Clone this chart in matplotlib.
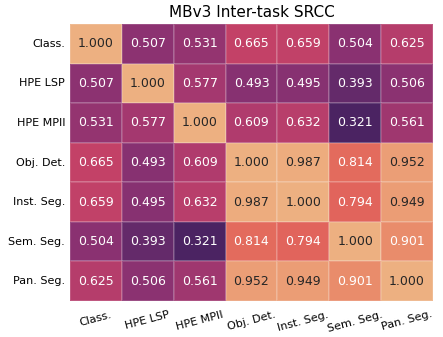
import matplotlib
matplotlib.use("Agg")
import matplotlib.pyplot as plt
import seaborn as sns
import numpy as np

tasks = ["Class.", "HPE LSP", "HPE MPII", "Obj. Det.", "Inst. Seg.", "Sem. Seg.", "Pan. Seg."]
row_class = [1.000, 0.507, 0.531, 0.665, 0.659, 0.504, 0.625]
row_lsp = [0.507, 1.000, 0.577, 0.493, 0.495, 0.393, 0.506]
row_mpii = [0.531, 0.577, 1.000, 0.609, 0.632, 0.321, 0.561]
row_det = [0.665, 0.493, 0.609, 1.000, 0.987, 0.814, 0.952]
row_inst = [0.659, 0.495, 0.632, 0.987, 1.000, 0.794, 0.949]
row_sem = [0.504, 0.393, 0.321, 0.814, 0.794, 1.000, 0.901]
row_pan = [0.625, 0.506, 0.561, 0.952, 0.949, 0.901, 1.000]
matrix = np.array([row_class, row_lsp, row_mpii, row_det, row_inst, row_sem, row_pan])

fig = plt.figure(figsize=(4.43, 3.37), dpi=100)
ax = fig.add_axes([70 / 443, 1 - 301 / 337, 363 / 443, 277 / 337])
sns.heatmap(matrix, ax=ax, cmap="flare_r", annot=True, fmt=".3f", cbar=False,
            xticklabels=tasks, yticklabels=tasks, linewidths=0.3,
            linecolor=(1, 1, 1, 0.15), annot_kws={"size": 9})
ax.set_title("MBv3 Inter-task SRCC", fontsize=11, pad=5)
ax.tick_params(axis="both", length=0, labelsize=8)
ax.tick_params(axis="x", pad=6)
plt.setp(ax.get_xticklabels(), rotation=15)
plt.setp(ax.get_yticklabels(), rotation=0)
fig.savefig("out.png", dpi=100)
